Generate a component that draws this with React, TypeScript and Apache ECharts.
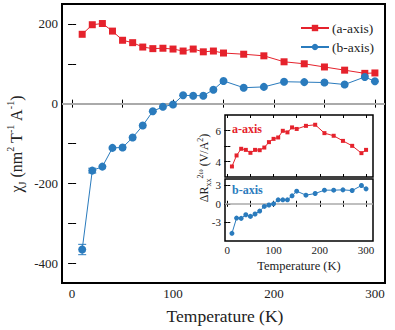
import React, { useEffect, useRef } from "react";
import * as echarts from "echarts";

const temps = [10, 20, 30, 40, 50, 60, 70, 80, 90, 100, 110, 120, 130, 140, 150, 170, 190, 210, 230, 250, 270, 290, 300];
const aAxis = [174, 198, 201, 182, 159, 153, 142, 138, 139, 137, 132, 137, 130, 132, 127, 124, 120, 105, 100, 92, 84, 76, 77];
const bAxis = [-366, -168, -158, -111, -110, -85, -55, -19, -8, -2, 21, 20, 20, 35, 57, 40, 42, 55, 54, 53, 48, 67, 56];
const bErr = [13, 6, 0, 0, 0, 0, 0, 0, 0, 0, 0, 0, 0, 0, 0, 0, 0, 0, 0, 0, 0, 0, 0];
const insetA = [3.68, 4.39, 4.82, 4.75, 4.56, 4.75, 4.73, 4.9, 5.25, 5.46, 5.55, 5.98, 5.88, 6.2, 6.1, 6.3, 6.37, 5.83, 5.66, 5.33, 5.01, 4.54, 4.75];
const insetB = [-4.76, -2.3, -2.35, -1.77, -2.03, -1.65, -1.17, -0.42, -0.2, 0.0, 0.64, 0.64, 0.64, 1.29, 2.04, 1.39, 1.66, 2.2, 2.2, 2.25, 2.14, 2.95, 2.41];

const mainXLabels = [0, 100, 200, 300];
const mainXTicks = [0, 50, 100, 150, 200, 250, 300];
const mainYLabels = [-400, -200, 0, 200];
const mainYTicks = [-400, -300, -200, -100, 0, 100, 200];
const insetXLabels = [0, 100, 200, 300];
const insetXTicks = [0, 50, 100, 150, 200, 250, 300];
const insetAYLabels = [4, 6];
const insetAYTicks = [4, 5, 6];
const insetBYLabels = [-3, 0, 3];

const RED = "#e5222c";
const BLUE = "#2a7bbd";
const FONT = "Liberation Serif";

export default function App() {
  const ref = useRef<HTMLDivElement>(null);
  useEffect(() => {
    if (!ref.current) return;
    const chart = echarts.init(ref.current, null, { renderer: "svg" });
    const zip = (ys: number[]) => temps.map((t, i) => [t, ys[i]]);

    const mkX = (grid: number, min: number, max: number, labels: number[] | null, ticks: number[], pos: string, len: number, fs: number, margin: number) => ({
      type: "value",
      gridIndex: grid,
      min,
      max,
      position: pos,
      axisLine: { show: false },
      splitLine: { show: false },
      axisTick: { show: true, inside: true, length: len, customValues: ticks, lineStyle: { color: "#000", width: 1 } },
      axisLabel: labels
        ? { show: true, customValues: labels, color: "#222", fontFamily: FONT, fontSize: fs, margin }
        : { show: false },
    });
    const mkY = (grid: number, min: number, max: number, labels: number[] | null, ticks: number[], pos: string, len: number, fs: number) => ({
      type: "value",
      gridIndex: grid,
      min,
      max,
      position: pos,
      axisLine: { show: false },
      splitLine: { show: false },
      axisTick: { show: true, inside: true, length: len, customValues: ticks, lineStyle: { color: "#000", width: 1 } },
      axisLabel: labels
        ? { show: true, customValues: labels, color: "#222", fontFamily: FONT, fontSize: fs, margin: 4 }
        : { show: false },
    });

    const errorSeries = {
      type: "custom",
      xAxisIndex: 0,
      yAxisIndex: 0,
      z: 1,
      data: temps.map((t, i) => [t, bAxis[i], bErr[i]]).filter((d) => d[2] > 0),
      renderItem: (params: any, api: any) => {
        const x = api.value(0);
        const y = api.value(1);
        const e = api.value(2);
        const top = api.coord([x, y + e]);
        const bot = api.coord([x, y - e]);
        const w = 4;
        return {
          type: "group",
          children: [
            { type: "line", shape: { x1: top[0], y1: top[1], x2: bot[0], y2: bot[1] }, style: { stroke: BLUE, lineWidth: 1 } },
            { type: "line", shape: { x1: top[0] - w, y1: top[1], x2: top[0] + w, y2: top[1] }, style: { stroke: BLUE, lineWidth: 1 } },
            { type: "line", shape: { x1: bot[0] - w, y1: bot[1], x2: bot[0] + w, y2: bot[1] }, style: { stroke: BLUE, lineWidth: 1 } },
          ],
        };
      },
    };

    chart.setOption({
      animation: false,
      textStyle: { fontFamily: FONT },
      grid: [
        { left: 62, top: 4, width: 323, height: 279, show: true, borderColor: "#000", borderWidth: 2, backgroundColor: "transparent" },
        { left: 225, top: 115, width: 148, height: 62, show: true, borderColor: "#000", borderWidth: 1.5, backgroundColor: "#fff" },
        { left: 225, top: 179, width: 148, height: 62, show: true, borderColor: "#000", borderWidth: 1.5, backgroundColor: "#fff" },
      ],
      xAxis: [
        mkX(0, -10, 310, mainXLabels, mainXTicks, "bottom", 4, 13, 4),
        mkX(0, -10, 310, null, mainXTicks, "top", 4, 13, 4),
        mkX(1, -5, 315, null, insetXTicks, "bottom", 3, 11, 4),
        mkX(1, -5, 315, null, insetXTicks, "top", 3, 11, 4),
        mkX(2, -5, 315, insetXLabels, insetXTicks, "bottom", 3, 11, 3),
        mkX(2, -5, 315, null, insetXTicks, "top", 3, 11, 3),
      ],
      yAxis: [
        mkY(0, -450, 250, mainYLabels, mainYTicks, "left", 4, 13),
        mkY(0, -450, 250, null, mainYTicks, "right", 4, 13),
        mkY(1, 3, 7, insetAYLabels, insetAYTicks, "left", 3, 11),
        mkY(1, 3, 7, null, insetAYTicks, "right", 3, 11),
        mkY(2, -6, 4, insetBYLabels, insetBYLabels, "left", 3, 11),
        mkY(2, -6, 4, null, insetBYLabels, "right", 3, 11),
      ],
      legend: {
        show: true,
        orient: "vertical",
        left: 295,
        top: 16,
        itemWidth: 28,
        itemHeight: 8,
        itemGap: 5,
        data: ["(a-axis)", "(b-axis)"],
        textStyle: { fontFamily: FONT, fontSize: 13.5, color: "#222", padding: [0, 0, 0, -2] },
      },
      series: [
        {
          name: "(a-axis)",
          type: "line",
          xAxisIndex: 0,
          yAxisIndex: 0,
          data: zip(aAxis),
          symbol: "rect",
          symbolSize: 7,
          itemStyle: { color: RED },
          lineStyle: { color: RED, width: 1 },
          z: 3,
        },
        {
          name: "(b-axis)",
          type: "line",
          xAxisIndex: 0,
          yAxisIndex: 0,
          data: zip(bAxis),
          symbol: "circle",
          symbolSize: 8,
          itemStyle: { color: BLUE },
          lineStyle: { color: BLUE, width: 1 },
          z: 3,
          markLine: {
            silent: true,
            symbol: "none",
            label: { show: false },
            data: [{ yAxis: 0 }],
            lineStyle: { color: "#aaa", width: 2, type: "solid" },
            z: 1,
          },
        },
        errorSeries,
        {
          name: "insetA",
          type: "line",
          xAxisIndex: 2,
          yAxisIndex: 2,
          data: zip(insetA),
          symbol: "rect",
          symbolSize: 4,
          itemStyle: { color: RED },
          lineStyle: { color: RED, width: 1 },
        },
        {
          name: "insetB",
          type: "line",
          xAxisIndex: 4,
          yAxisIndex: 4,
          data: zip(insetB),
          symbol: "circle",
          symbolSize: 5,
          itemStyle: { color: BLUE },
          lineStyle: { color: BLUE, width: 1 },
          z: 3,
          markLine: {
            silent: true,
            symbol: "none",
            label: { show: false },
            data: [{ yAxis: 0 }],
            lineStyle: { color: "#aaa", width: 1.5, type: "solid" },
            z: 1,
          },
        },
      ],
      graphic: [
        {
          type: "text",
          x: 225,
          y: 316,
          style: { text: "Temperature (K)", fontFamily: FONT, fontSize: 17.5, fill: "#222", align: "center", verticalAlign: "middle" },
        },
        {
          type: "text",
          x: 299,
          y: 266,
          style: { text: "Temperature (K)", fontFamily: FONT, fontSize: 12.5, fill: "#222", align: "center", verticalAlign: "middle" },
        },
        {
          type: "text",
          x: 232,
          y: 129,
          style: { text: "a-axis", fontFamily: FONT, fontSize: 12, fontWeight: "bold", fill: RED, align: "left", verticalAlign: "middle" },
        },
        {
          type: "text",
          x: 232,
          y: 190,
          style: { text: "b-axis", fontFamily: FONT, fontSize: 12, fontWeight: "bold", fill: BLUE, align: "left", verticalAlign: "middle" },
        },
        {
          type: "text",
          x: 16,
          y: 144,
          rotation: Math.PI / 2,
          style: {
            text: "{b|χ}{s|J}{b| (nm}{p|2}{b| T}{p|-1}{b| A}{p|-1}{b|)}",
            align: "center",
            verticalAlign: "middle",
            fill: "#222",
            rich: {
              b: { fontFamily: FONT, fontSize: 16, fill: "#222", lineHeight: 22, verticalAlign: "middle" },
              s: { fontFamily: FONT, fontSize: 10, fill: "#222", lineHeight: 22, verticalAlign: "bottom" },
              p: { fontFamily: FONT, fontSize: 10, fill: "#222", lineHeight: 22, verticalAlign: "top" },
            },
          },
        },
        {
          type: "text",
          x: 204,
          y: 168,
          rotation: Math.PI / 2,
          style: {
            text: "{b|ΔR}{s|xx}{p|2ω}{b| (V/A}{p|2}{b|)}",
            align: "center",
            verticalAlign: "middle",
            fill: "#222",
            rich: {
              b: { fontFamily: FONT, fontSize: 12, fill: "#222", lineHeight: 16, verticalAlign: "middle" },
              s: { fontFamily: FONT, fontSize: 8, fill: "#222", lineHeight: 16, verticalAlign: "bottom" },
              p: { fontFamily: FONT, fontSize: 8, fill: "#222", lineHeight: 16, verticalAlign: "top" },
            },
          },
        },
      ],
    });
    return () => chart.dispose();
  }, []);
  return <div ref={ref} style={{ width: 395, height: 330, position: "absolute", left: 0, top: 0 }} />;
}
